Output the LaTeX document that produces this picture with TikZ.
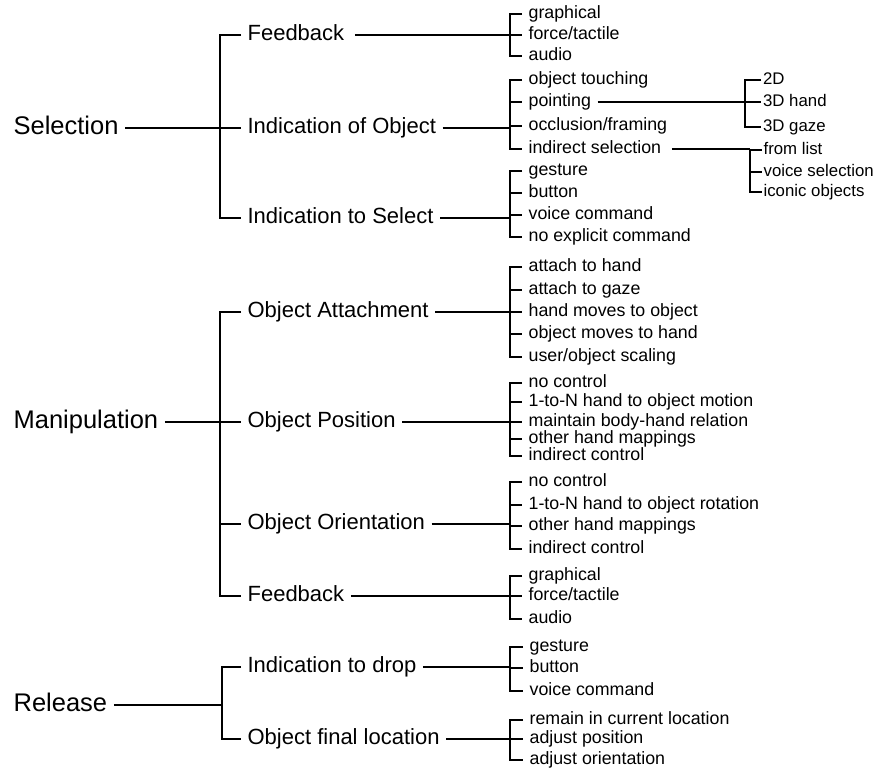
\documentclass[tikz,border=0pt]{standalone}
\usepackage{fontspec}
\setmainfont{Liberation Sans}
\begin{document}
\begin{tikzpicture}[x=1pt,y=-1pt,line width=1.2pt,
  every node/.style={anchor=west,inner ysep=0pt,
    execute at begin node={\rule[-0.3em]{0pt}{1.12em}}},
  lone/.style={font=\fontsize{25.5}{28}\selectfont,inner xsep=6pt},
  ltwo/.style={font=\fontsize{22}{25}\selectfont,inner xsep=6pt},
  lthree/.style={font=\fontsize{17.8}{20}\selectfont,inner xsep=6pt},
  lfour/.style={font=\fontsize{16.8}{19}\selectfont,inner xsep=1.5pt}]
\useasboundingbox (0,0) rectangle (876,771);
% level 1
\node[lone] (sel) at (7,128) {Selection};
\node[lone] (man) at (7,422) {Manipulation};
\node[lone] (rel) at (7,705) {Release};
% level 2
\node[ltwo] (fb)  at (241,35)  {Feedback};
\node[ltwo] (io)  at (241,128) {Indication of Object};
\node[ltwo] (is)  at (241,218) {Indication to Select};
\node[ltwo] (oa)  at (241,312) {Object Attachment};
\node[ltwo] (op)  at (241,422) {Object Position};
\node[ltwo] (oo)  at (241,524) {Object Orientation};
\node[ltwo] (fbb) at (241,596) {Feedback};
\node[ltwo] (id)  at (241,667) {Indication to drop};
\node[ltwo] (of)  at (241,739) {Object final location};
% level 3
\node[lthree] (fb1) at (522,14) {graphical};
\node[lthree] (fb2) at (522,35) {force/tactile};
\node[lthree] (fb3) at (522,56) {audio};
\node[lthree] (io1) at (522,80) {object touching};
\node[lthree] (io2) at (522,102) {pointing};
\node[lthree] (io3) at (522,126) {occlusion/framing};
\node[lthree] (io4) at (522,149) {indirect selection};
\node[lthree] (is1) at (522,171) {gesture};
\node[lthree] (is2) at (522,193) {button};
\node[lthree] (is3) at (522,215) {voice command};
\node[lthree] (is4) at (522,237) {no explicit command};
\node[lthree] (oa1) at (522,267) {attach to hand};
\node[lthree] (oa2) at (522,290) {attach to gaze};
\node[lthree] (oa3) at (522,312) {hand moves to object};
\node[lthree] (oa4) at (522,334) {object moves to hand};
\node[lthree] (oa5) at (522,357) {user/object scaling};
\node[lthree] (op1) at (522,383) {no control};
\node[lthree] (op2) at (522,402) {1-to-N hand to object motion};
\node[lthree] (op3) at (522,422) {maintain body-hand relation};
\node[lthree] (op4) at (522,439) {other hand mappings};
\node[lthree] (op5) at (522,456) {indirect control};
\node[lthree] (oo1) at (522,482) {no control};
\node[lthree] (oo2) at (522,505) {1-to-N hand to object rotation};
\node[lthree] (oo3) at (522,526) {other hand mappings};
\node[lthree] (oo4) at (522,549) {indirect control};
\node[lthree] (fc1) at (522,576) {graphical};
\node[lthree] (fc2) at (522,596) {force/tactile};
\node[lthree] (fc3) at (522,619) {audio};
\node[lthree] (id1) at (523,647) {gesture};
\node[lthree] (id2) at (523,668) {button};
\node[lthree] (id3) at (523,691) {voice command};
\node[lthree] (of1) at (523,720) {remain in current location};
\node[lthree] (of2) at (523,739) {adjust position};
\node[lthree] (of3) at (523,760) {adjust orientation};
% level 4
\node[lfour] (pt1) at (761,80)  {2D};
\node[lfour] (pt2) at (761,102) {3D hand};
\node[lfour] (pt3) at (761,127) {3D gaze};
\node[lfour] (in1) at (761.5,150) {from list};
\node[lfour] (in2) at (761.5,172) {voice selection};
\node[lfour] (in3) at (761.5,192) {iconic objects};
% connectors level 1 -> 2
\draw (sel.east) -- (io.west);
\draw (fb.west) -- (fb.west -| 220,0) -- (is.west -| 220,0) -- (is.west);
\draw (man.east) -- (op.west);
\draw (oa.west) -- (oa.west -| 220,0) -- (fbb.west -| 220,0) -- (fbb.west);
\draw (oo.west -| 220,0) -- (oo.west);
\draw (rel.east) -- (rel.east -| 222,0);
\draw (id.west) -- (id.west -| 222,0) -- (of.west -| 222,0) -- (of.west);
% connectors level 2 -> 3
\draw ([xshift=4pt]fb.east) -- (fb2.west);
\draw (fb1.west) -- (fb1.west -| 510,0) -- (fb3.west -| 510,0) -- (fb3.west);
\draw (io.east) -- (io.east -| 510,0);
\draw (io1.west) -- (io1.west -| 510,0) -- (io4.west -| 510,0) -- (io4.west);
\foreach \n in {io2,io3} \draw (\n.west -| 510,0) -- (\n.west);
\draw (is.east) -- (is.east -| 510,0);
\draw (is1.west) -- (is1.west -| 510,0) -- (is4.west -| 510,0) -- (is4.west);
\foreach \n in {is2,is3} \draw (\n.west -| 510,0) -- (\n.west);
\draw (oa.east) -- (oa3.west);
\draw (oa1.west) -- (oa1.west -| 510,0) -- (oa5.west -| 510,0) -- (oa5.west);
\foreach \n in {oa2,oa4} \draw (\n.west -| 510,0) -- (\n.west);
\draw (op.east) -- (op3.west);
\draw (op1.west) -- (op1.west -| 510,0) -- (op5.west -| 510,0) -- (op5.west);
\foreach \n in {op2,op4} \draw (\n.west -| 510,0) -- (\n.west);
\draw (oo.east) -- (oo.east -| 510,0);
\draw (oo1.west) -- (oo1.west -| 510,0) -- (oo4.west -| 510,0) -- (oo4.west);
\foreach \n in {oo2,oo3} \draw (\n.west -| 510,0) -- (\n.west);
\draw (fbb.east) -- (fc2.west);
\draw (fc1.west) -- (fc1.west -| 510,0) -- (fc3.west -| 510,0) -- (fc3.west);
\draw (id.east) -- (id.east -| 510,0);
\draw (id1.west) -- (id1.west -| 510,0) -- (id3.west -| 510,0) -- (id3.west);
\draw (id2.west -| 510,0) -- (id2.west);
\draw (of.east) -- (of2.west);
\draw (of1.west) -- (of1.west -| 510,0) -- (of3.west -| 510,0) -- (of3.west);
% connectors level 3 -> 4
\draw (io2.east) -- (pt2.west);
\draw (pt1.west) -- (pt1.west -| 745,0) -- (pt3.west -| 745,0) -- (pt3.west);
\draw ([xshift=4pt]io4.east) -- (io4.east -| 750,0);
\draw (in1.west) -- (in1.west -| 750,0) -- (in3.west -| 750,0) -- (in3.west);
\draw (in2.west -| 750,0) -- (in2.west);
\end{tikzpicture}
\end{document}
